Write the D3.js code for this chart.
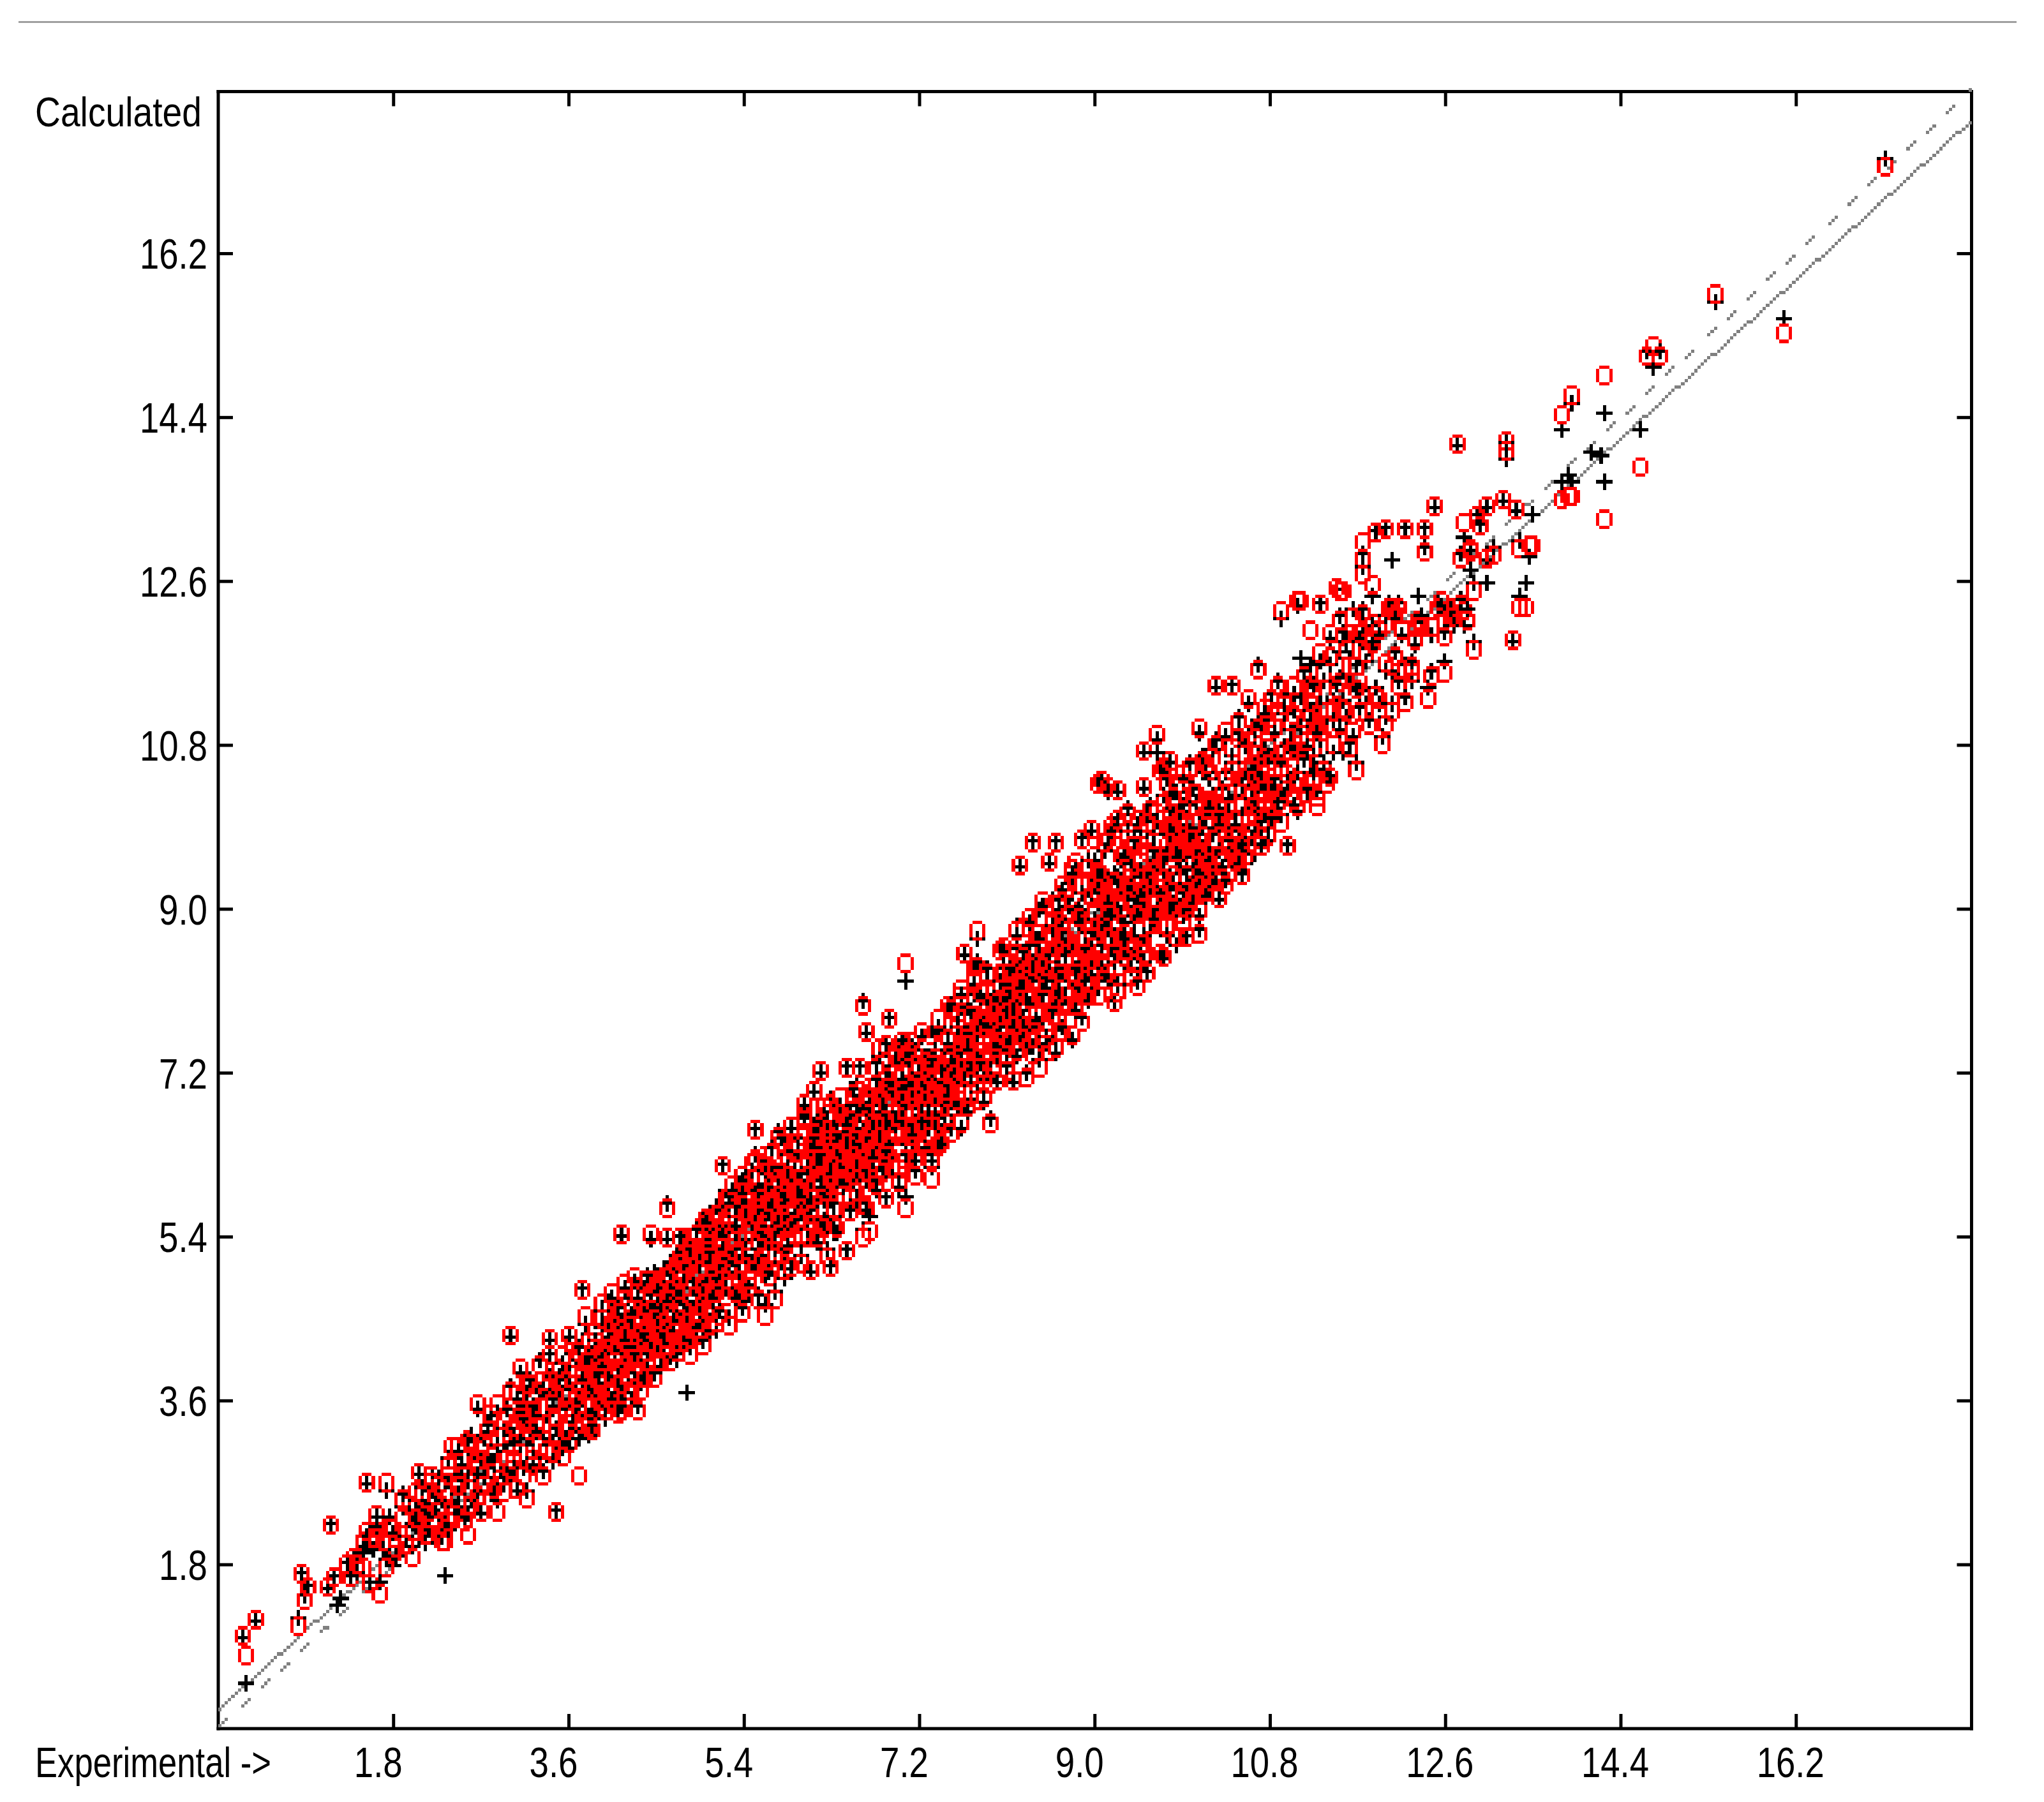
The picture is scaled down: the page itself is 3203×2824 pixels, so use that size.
<!DOCTYPE html>
<html>
<head>
<meta charset="utf-8">
<script src="https://cdn.jsdelivr.net/npm/d3@7"></script>
<style>
  html, body { margin: 0; padding: 0; background: #fff; }
  svg { display: block; }
  text { font-family: "Liberation Sans", Arial, sans-serif; fill: #000; }
</style>
</head>
<body>
<div class="container_main"></div>
<script>
// tick values, same on both axes
const tickValues = [1.8, 3.6, 5.4, 7.2, 9.0, 10.8, 12.6, 14.4, 16.2];
const xDomain = [0, 18];
const yDomain = [0, 17.98];
const xTitle = "Experimental ->";
const yTitle = "Calculated";

// reference lines (x0, y0, x1, y1)
const fitLine = [0, 0.2, 18, 17.66];
const unityLine = [0, 0, 18, 18];

// [experimental, calculated (+), calculated (o)]
// the core of the cloud cannot be read point by point, these are estimates
const coreE = [
[3.62,3.96,3.90],[4.06,4.04,4.12],[3.72,3.44,3.52],[4.29,4.52,4.46],[3.88,4.18,4.24],[4.15,4.42,4.36],[3.78,3.96,4.02],[4.46,4.30,4.36],
[4.04,3.84,3.92],[4.35,4.06,4.12],[3.92,3.74,3.80],[4.55,4.66,4.60],[4.19,4.50,4.58],[4.42,4.48,4.54],[4.10,4.22,4.28],[4.66,4.30,4.24],
[4.26,4.28,4.20],[4.58,4.84,4.78],[4.36,4.84,4.90],[4.72,4.90,4.84],[4.48,4.34,4.42],[4.80,4.44,4.50],[4.40,4.56,4.48],[4.88,5.06,5.00],
[4.63,4.46,4.54],[4.94,4.78,4.84],[4.52,4.28,4.36],[5.02,4.96,5.04],[4.70,4.72,4.78],[5.10,4.86,4.80],[4.77,5.10,5.02],[5.18,5.14,5.08],
[4.84,4.54,4.60],[5.23,5.02,5.10],[4.92,5.22,5.28],[5.30,5.26,5.20],[4.98,4.92,4.86],[5.37,5.52,5.58],[5.06,5.38,5.32],[5.44,5.12,5.18],
[5.12,5.28,5.22],[5.50,5.76,5.70],[5.16,5.74,5.68],[5.56,5.52,5.58],[5.25,5.10,5.18],[5.63,5.46,5.38],[5.33,5.78,5.72],[5.68,5.94,6.00],
[5.40,5.36,5.42],[5.74,5.68,5.62],[5.47,5.96,5.90],[5.80,6.06,6.12],[5.54,5.64,5.70],[5.86,5.72,5.66],[5.60,6.12,6.06],[5.93,5.88,5.96],
[5.66,5.38,5.44],[5.99,6.26,6.20],[5.72,5.86,5.80],[6.05,5.96,6.02],[5.78,5.50,5.58],[6.10,6.28,6.36],[5.84,6.30,6.24],[6.15,6.10,6.04],
[5.90,5.90,5.84],[6.20,6.56,6.50],[5.96,6.50,6.44],[6.26,5.90,5.98],[6.02,5.66,5.72],[6.31,6.34,6.28],[6.08,6.38,6.32],[6.36,6.64,6.58],
[6.13,5.78,5.84],[6.41,6.10,6.18],[6.18,6.20,6.14],[6.46,6.46,6.40],[6.23,6.52,6.46],[6.52,6.24,6.16],[6.28,5.80,5.88],[6.57,6.86,6.80],
[6.33,6.30,6.38],[6.62,6.58,6.64],[6.38,6.02,5.96],[6.67,6.20,6.28],[6.43,6.68,6.62],[6.73,6.70,6.64],[6.49,6.14,6.20],[6.78,6.92,6.98],
[6.54,6.44,6.38],[6.83,6.52,6.58],[6.59,6.96,7.02],[6.88,6.34,6.28],[6.64,6.12,6.18],[6.93,7.08,7.02],[6.69,6.48,6.42],[6.98,6.78,6.84],
[6.74,6.30,6.38],[7.03,6.48,6.54],[6.79,6.88,6.94],[7.08,7.14,7.08],[6.84,6.16,6.22],[7.13,6.82,6.76],[6.90,7.00,7.06],[7.18,6.54,6.60],
[6.95,6.58,6.52],[7.23,7.10,7.04],[7.00,7.38,7.32],[7.28,6.78,6.84],[7.05,6.66,6.72],[7.33,7.02,6.96],[7.10,7.00,6.94],[7.38,6.62,6.68],
[7.15,7.46,7.40],[7.43,7.36,7.30],[7.20,6.58,6.64],[7.48,7.16,7.22],[7.25,7.18,7.24],[7.53,6.98,6.92],[7.30,6.92,6.86],[7.58,7.52,7.46],
[3.44,3.54,3.60],[3.68,3.72,3.78],[3.95,3.58,3.52],[4.22,4.04,3.98],[4.50,4.62,4.68],[4.75,4.18,4.26],[5.00,5.14,5.08],[5.27,4.78,4.84],
[5.55,5.18,5.12],[5.82,5.54,5.48],[6.06,5.84,5.78],[6.35,6.24,6.30],[6.60,6.06,6.12],[6.86,6.62,6.70],[7.12,6.68,6.62],[7.36,7.12,7.18]
];

const coreF = [
[7.62,7.42,7.36],[8.02,7.58,7.64],[7.66,7.84,7.78],[8.10,8.18,8.12],[7.70,7.30,7.36],[8.16,7.92,7.98],[7.74,7.66,7.60],[8.22,7.70,7.76],
[7.78,7.36,7.42],[8.28,8.26,8.20],[7.82,7.72,7.78],[8.34,7.72,7.66],[7.86,7.46,7.52],[8.40,8.46,8.40],[7.90,7.90,7.96],[8.46,8.22,8.28],
[7.94,7.68,7.62],[8.52,7.90,7.96],[7.98,8.04,7.98],[8.58,8.56,8.50],[8.04,7.32,7.38],[8.64,8.10,8.04],[8.08,7.78,7.84],[8.70,8.40,8.46],
[8.14,8.12,8.06],[8.76,8.68,8.62],[8.18,7.72,7.78],[8.82,8.28,8.34],[8.26,8.26,8.32],[8.88,8.96,8.90],[8.32,8.62,8.56],[8.94,8.50,8.56],
[8.38,8.00,8.06],[9.00,9.24,9.18],[8.44,8.48,8.42],[9.06,8.76,8.82],[8.50,8.24,8.30],[9.12,9.04,8.98],[8.56,8.62,8.68],[9.18,8.92,8.98],
[8.62,8.36,8.30],[9.24,9.30,9.24],[8.68,8.90,8.84],[9.30,8.68,8.74],[8.74,8.58,8.64],[9.36,9.50,9.44],[8.80,8.18,8.24],[9.42,9.36,9.30],
[8.86,8.96,9.02],[9.48,8.92,8.98],[8.92,8.50,8.44],[9.54,9.68,9.62],[8.98,9.18,9.12],[9.60,9.40,9.46],[9.04,8.72,8.78],[9.66,9.66,9.60],
[9.10,9.32,9.26],[9.72,9.10,9.16],[9.16,8.56,8.62],[9.78,10.12,10.06],[9.22,9.22,9.28],[9.84,9.76,9.70],[9.28,8.74,8.68],[9.90,9.60,9.66],
[9.34,9.58,9.52],[9.96,10.14,10.08],[9.40,9.04,9.10],[10.02,9.44,9.50],[9.46,9.84,9.78],[10.08,10.02,9.96],[9.52,9.16,9.22],[10.14,9.76,9.82],
[9.58,9.48,9.42],[10.20,10.26,10.20],[9.64,9.00,9.06],[10.26,9.92,9.98],[9.70,9.52,9.58],[10.32,10.04,9.98],[9.76,9.28,9.22],[10.38,9.66,9.72],
[9.82,9.68,9.74],[10.44,10.36,10.30],[9.88,9.40,9.34],[10.50,9.88,9.94],[9.94,9.94,10.00],[10.56,10.48,10.42],[10.00,9.22,9.28],[10.62,10.22,10.28],
[10.06,9.64,9.58],[10.68,10.50,10.44],[10.12,10.26,10.20],[10.74,10.04,10.10],[10.18,9.52,9.58],[10.80,10.70,10.64],[10.24,10.12,10.06],[10.86,10.30,10.36]
];

const coreA = [
[2.21,2.38,2.31],[2.66,3.02,2.95],[2.38,2.71,2.78],[2.93,3.12,3.20],[2.47,2.44,2.52],[2.83,2.94,2.86],[2.57,2.86,2.80],[3.06,3.36,3.28],
[3.31,3.02,3.10],[3.74,4.84,4.81],[3.12,3.58,3.50],[3.55,3.92,3.86],[3.27,3.44,3.38],[3.82,3.70,3.78],[3.03,3.16,3.08],[3.46,3.28,3.22],
[3.64,4.12,4.20],[3.22,2.90,2.96],[3.90,4.16,4.08],[3.37,3.66,3.74],[3.71,3.62,3.55],[3.09,3.48,3.42],[3.58,3.44,3.36],[3.96,3.66,3.60],
[3.16,3.12,3.20],[3.49,3.72,3.80],[3.79,4.32,4.26],[3.26,3.76,3.70],[4.03,4.50,4.44],[3.42,3.14,3.06],[3.67,3.80,3.72],[4.10,4.34,4.42],
[3.34,3.26,3.34],[3.86,3.86,3.94],[4.16,4.06,3.98],[3.53,3.60,3.66],[4.24,4.36,4.28],[3.76,4.06,3.98],[4.08,3.76,3.70],[3.62,3.26,3.34],
[4.31,4.60,4.54],[3.94,4.42,4.50],[4.20,4.74,4.68],[3.84,3.48,3.54],[4.37,4.18,4.10],[4.14,5.42,5.42],[4.00,3.96,4.04],[4.45,4.78,4.70],
[4.27,3.80,3.88],[3.98,4.24,4.18],[4.52,4.50,4.42],[4.12,4.62,4.56],[4.41,3.98,4.06],[4.18,4.16,4.24],[4.57,4.24,4.18],[4.33,4.44,4.50],
[4.49,5.00,4.94],[4.22,3.90,3.84],[4.64,4.82,4.90],[4.39,4.64,4.58],[4.55,4.38,4.30],[4.29,4.90,4.96],[4.71,4.52,4.46],[4.47,4.10,4.18],
[4.61,5.77,5.72],[4.68,5.00,5.08],[4.35,4.26,4.34],[4.78,4.68,4.60],[4.53,4.76,4.84],[4.83,5.12,5.06],[4.59,4.22,4.16],[4.76,4.36,4.42],
[4.87,4.62,4.70],[4.62,5.06,4.98],[4.95,4.96,5.04],[4.69,4.60,4.52],[4.91,4.24,4.32],[4.81,4.92,4.84],[5.01,5.30,5.24],[4.73,5.22,5.16],
[4.97,4.76,4.68],[5.07,4.56,4.64],[4.85,5.34,5.40],[5.13,5.48,5.40],[4.93,4.46,4.40],[5.05,5.08,5.14],[5.20,5.02,4.94],[4.99,5.60,5.52],
[5.15,4.76,4.84],[5.09,5.66,5.60],[5.26,5.30,5.38],[5.03,4.36,4.44],[5.22,5.90,5.84],[5.11,4.96,4.88],[5.32,5.62,5.54],[5.17,5.24,5.32],
[2.99,2.76,2.84],[3.19,3.32,3.26],[3.40,3.88,3.82],[3.60,3.08,3.14],[3.81,3.24,3.30],[4.02,4.68,4.62],[4.23,4.20,4.14],[4.43,4.70,4.78]
];

const coreB = [
[5.34,4.70,4.78],[5.24,5.52,5.46],[5.42,6.04,5.98],[5.28,4.84,4.90],[5.48,5.44,5.36],[5.36,5.14,5.22],[5.56,5.92,5.84],[5.40,5.76,5.70],
[5.52,5.06,5.12],[5.65,6.10,6.18],[5.46,4.76,4.84],[5.61,5.60,5.52],[5.73,5.34,5.42],[5.50,6.30,6.24],[5.69,6.04,5.96],[5.58,5.26,5.18],
[5.79,5.80,5.88],[5.63,4.98,5.06],[5.85,6.30,6.22],[5.71,5.48,5.40],[5.91,5.14,5.22],[5.75,6.56,6.50],[5.83,5.96,6.04],[5.97,5.66,5.58],
[5.67,5.82,5.76],[6.03,6.42,6.50],[5.87,5.58,5.50],[6.09,5.90,5.82],[5.93,6.22,6.16],[5.77,5.12,5.20],[6.14,6.66,6.60],[5.99,5.34,5.42],
[6.19,5.48,5.54],[5.89,6.44,6.36],[6.05,6.12,6.20],[6.25,6.04,5.96],[6.12,6.62,6.54],[5.95,5.80,5.86],[6.29,6.44,6.52],[6.07,5.62,5.54],
[6.33,5.64,5.72],[6.16,6.30,6.22],[6.39,6.80,6.74],[6.23,5.82,5.90],[6.46,6.30,6.38],[6.27,6.92,6.86],[6.35,6.06,5.98],[6.52,6.00,6.08],
[6.31,5.44,5.52],[6.56,6.54,6.46],[6.41,6.64,6.72],[6.62,7.98,7.95],[6.48,5.90,5.82],[6.37,6.22,6.30],[6.63,6.22,6.14],[6.54,7.08,7.02],
[6.43,6.50,6.42],[6.69,6.96,7.04],[6.58,6.30,6.24],[6.75,5.98,6.06],[6.50,6.78,6.70],[6.61,5.84,5.76],[6.79,6.52,6.44],[6.67,6.66,6.74],
[6.85,7.20,7.14],[6.71,6.14,6.22],[6.90,7.82,7.78],[6.81,6.78,6.70],[6.94,6.50,6.58],[6.77,7.30,7.24],[6.98,6.22,6.14],[6.83,6.40,6.46],
[7.02,6.90,6.98],[6.88,7.10,7.04],[7.08,6.60,6.52],[6.92,6.90,6.84],[7.04,7.36,7.44],[7.14,6.34,6.42],[6.96,7.50,7.42],[7.10,7.16,7.08],
[7.18,7.02,6.94],[7.00,6.72,6.80],[7.24,6.68,6.60],[7.12,7.50,7.56],[7.30,7.20,7.28],[7.16,6.46,6.52],[7.35,6.70,6.78],[7.20,7.02,7.10],
[7.26,7.40,7.32],[7.39,7.06,6.98],[7.22,6.30,6.38],[7.43,7.62,7.54],[7.28,6.84,6.92],[7.47,6.86,6.94],[7.32,7.66,7.60],[7.51,7.24,7.16],
[5.38,5.86,5.92],[5.54,5.38,5.32],[5.81,5.24,5.30],[6.01,6.74,6.68],[6.21,6.76,6.84],[6.44,6.16,6.10],[6.65,6.80,6.88],[6.87,6.28,6.36],
[7.06,7.02,7.08],[7.37,7.44,7.38],[5.44,5.62,5.68],[5.72,6.18,6.12],[6.00,6.10,6.04],[6.28,6.12,6.20],[6.60,6.42,6.36],[6.89,6.60,6.66]
];

const coreC = [
[7.55,7.06,7.14],[7.41,7.20,7.28],[7.59,7.78,7.70],[7.45,6.74,6.68],[7.63,7.34,7.42],[7.49,7.88,7.94],[7.67,6.92,6.98],[7.53,7.42,7.34],
[7.71,7.54,7.62],[7.57,6.90,6.84],[7.75,8.06,8.00],[7.61,7.96,8.04],[7.81,7.26,7.18],[7.69,7.64,7.58],[7.85,7.66,7.74],[7.73,7.18,7.24],
[7.89,8.16,8.08],[7.77,8.32,8.38],[7.93,7.36,7.44],[7.83,7.82,7.76],[7.97,7.82,7.74],[7.87,7.12,7.20],[8.01,7.42,7.48],[7.91,8.06,8.12],
[8.05,8.36,8.30],[7.95,7.54,7.46],[8.09,7.28,7.36],[7.99,7.72,7.80],[8.13,8.00,7.92],[8.03,8.62,8.56],[8.16,7.62,7.70],[8.07,7.94,7.86],
[8.20,8.30,8.38],[8.11,7.44,7.50],[8.25,7.82,7.74],[8.18,8.56,8.50],[8.29,8.10,8.18],[8.23,7.54,7.60],[8.33,7.50,7.58],[8.27,8.88,8.80],
[8.35,8.44,8.36],[8.31,7.96,8.04],[8.41,7.82,7.74],[8.39,8.68,8.74],[8.45,8.20,8.28],[8.43,8.98,8.92],[8.49,7.52,7.58],[8.47,8.46,8.38],
[8.53,7.52,7.44],[8.51,8.12,8.20],[8.57,8.76,8.84],[8.55,9.12,9.06],[8.61,8.02,7.94],[8.59,8.50,8.58],[8.66,8.30,8.22],[8.62,7.74,7.82],
[8.70,9.12,9.18],[8.68,8.76,8.68],[8.74,7.96,8.04],[8.72,9.30,9.24],[8.78,8.50,8.58],[8.76,8.14,8.06],[8.82,8.98,8.90],[8.80,9.46,9.52],
[8.87,7.82,7.75],[8.84,8.38,8.46],[8.89,8.76,8.68],[8.92,9.22,9.30],[8.94,8.28,8.20],[8.96,8.68,8.76],[8.99,9.54,9.60],[9.01,8.52,8.44],
[9.03,9.12,9.20],[9.06,8.36,8.42],[9.08,9.44,9.38],[9.10,8.88,8.80],[9.12,9.70,9.76],[9.14,8.20,8.28],[9.16,9.16,9.08],[9.18,8.62,8.70],
[9.20,9.92,9.86],[9.20,7.98,7.96],[9.22,9.02,9.10],[9.26,8.46,8.38],[9.28,9.52,9.60],[9.30,8.86,8.92],[9.32,9.84,9.78],[9.34,8.46,8.54],
[9.36,9.28,9.20],[9.38,9.62,9.70],[9.40,8.68,8.60],[9.42,9.12,9.06],[9.44,9.92,10.00],[9.46,8.54,8.62],[9.48,9.78,9.70],[9.50,9.06,9.14],
[9.52,8.44,8.50],[9.54,9.44,9.38],[9.56,10.16,10.10],[9.58,8.76,8.84],[9.60,9.22,9.14],[9.62,9.82,9.90],[7.79,8.44,8.38],[8.02,8.10,8.02],
[8.24,8.36,8.44],[8.46,7.80,7.88],[8.64,8.98,9.04],[8.86,8.14,8.06],[9.09,9.00,9.08],[9.25,9.34,9.26],[9.47,9.14,9.20],[9.60,8.96,9.04]
];

const coreD = [
[9.66,9.18,9.24],[9.71,10.24,10.18],[9.68,8.90,8.82],[9.75,9.62,9.70],[9.73,10.44,10.38],[9.78,8.96,9.02],[9.80,9.94,9.88],[9.82,9.30,9.38],
[9.84,10.30,10.36],[9.86,9.04,8.96],[9.88,9.58,9.66],[9.90,9.18,9.12],[9.92,10.16,10.10],[9.94,9.44,9.36],[9.96,10.46,10.52],[9.98,8.98,9.06],
[10.00,9.74,9.82],[10.02,10.32,10.26],[10.04,9.32,9.24],[10.06,9.90,9.98],[10.10,10.68,10.62],[10.12,9.44,9.52],[10.14,10.00,9.92],[10.16,9.24,9.30],
[10.18,10.44,10.52],[10.20,9.82,9.76],[10.22,9.38,9.46],[10.24,10.86,10.80],[10.26,9.66,9.58],[10.29,10.10,10.18],[10.31,9.28,9.34],[10.35,10.52,10.46],
[10.37,9.84,9.92],[10.39,10.02,9.94],[10.41,10.70,10.78],[10.43,9.56,9.50],[10.45,10.24,10.32],[10.47,9.74,9.66],[10.49,10.94,10.88],[10.51,10.04,10.12],
[10.53,9.50,9.58],[10.55,10.50,10.42],[10.57,9.92,9.84],[10.59,10.82,10.90],[10.61,10.20,10.14],[10.63,9.62,9.68],[10.65,10.62,10.70],[10.67,10.02,10.10],
[10.69,11.06,11.00],[10.71,9.84,9.76],[10.73,10.30,10.38],[10.75,10.74,10.66],[10.77,9.76,9.82],[10.79,11.02,11.10],[10.81,10.28,10.20],[10.83,10.62,10.56],
[10.85,9.96,10.04],[10.87,11.24,11.18],[10.90,10.46,10.54],[10.92,10.02,9.94],[10.94,10.80,10.74],[10.96,11.36,11.30],[10.98,10.30,10.38],[11.00,10.98,11.06],
[11.02,10.34,10.26],[11.04,11.20,11.14],[11.06,10.72,10.80],[11.09,10.06,10.12],[11.12,11.34,11.26],[11.15,10.66,10.60],[11.19,10.28,10.36],[11.21,11.06,11.14],
[11.23,11.50,11.44],[11.25,10.70,10.78],[11.28,10.30,10.24],[11.30,11.24,11.18],[11.32,10.86,10.94],[11.34,11.52,11.60],[11.37,10.44,10.36],[11.39,11.10,11.02],
[11.41,11.70,11.76],[11.44,10.72,10.80],[11.46,11.30,11.22],[11.50,10.96,11.04],[11.53,11.56,11.50],[11.55,12.04,11.98],[11.59,11.10,11.18],[11.63,11.76,11.68],
[11.66,10.88,10.94],[11.71,11.40,11.48],[11.75,12.12,12.06],[11.80,11.26,11.18],[11.83,11.86,11.94],[11.91,11.24,11.30],[11.98,12.22,12.14],[12.04,11.60,11.68],
[12.12,12.36,12.30],[12.18,11.70,11.62],[12.26,11.50,11.58],[12.30,11.90,11.96],[12.44,12.02,12.10],[12.52,12.38,12.30],[12.68,12.22,12.30],[12.76,12.40,12.34]
];

const pointsLow = [
[0.24,1.01,1.01],[0.37,1.19,1.19],[0.30,0.50,0.81],[0.82,1.20,1.14],[0.885,1.45,1.40],[0.92,1.57,1.57],[0.85,1.71,1.71],
[1.12,1.55,1.55],[1.19,1.68,1.68],[1.23,1.35,null],[1.26,1.43,null],[1.35,1.67,1.67],[1.40,1.87,1.87],[1.32,1.83,1.80],
[1.50,2.00,2.04],[1.57,1.61,1.59],[1.67,1.61,1.47],[1.78,1.80,1.92],[1.83,1.88,1.98],[2.01,2.02,1.87],[2.32,1.68,2.04],
[1.16,2.24,2.24],[1.64,2.33,2.33],[1.54,2.69,2.69],[1.74,2.60,2.69],[2.05,2.78,2.82],[2.19,2.79,2.79],[2.29,2.10,2.04],
[2.56,2.35,2.14],[2.70,2.37,2.37],[2.86,2.52,2.38],[1.48,1.93,1.78],[1.44,1.72,1.80],[1.60,1.96,2.10],[1.53,2.12,2.18],
[1.62,2.21,2.10],[1.70,1.98,2.05],[1.76,2.32,2.21],[1.81,2.14,2.20],[1.88,2.42,2.30],[1.92,2.11,2.03],[1.97,2.36,2.45],
[1.90,2.57,2.52],[1.99,2.24,2.18],[2.03,2.50,2.61],[2.08,2.31,2.22],[2.11,2.66,2.55],[2.14,2.42,2.35],[2.17,2.18,2.12],
[2.21,2.60,2.70],[2.25,2.31,2.40],[2.27,2.77,2.68],[2.31,2.50,2.44],[2.34,2.26,2.20],[2.36,2.97,2.88],[2.39,2.66,3.08],
[2.42,2.43,2.35],[2.45,2.81,2.74],[2.48,2.58,2.66],[2.50,2.90,2.95],[2.52,2.34,2.28],[2.55,3.17,3.17],[2.58,2.72,2.62],
[2.60,2.50,2.44],[2.63,3.02,2.92],[2.65,2.80,2.86],[2.68,2.60,2.55],[2.66,3.52,3.57],[2.04,2.22,2.30],[2.12,2.04,2.12],
[1.73,1.85,1.78],[2.24,2.47,2.55],[2.38,2.20,2.28],[2.47,3.03,3.10],[2.61,3.23,3.14],[2.69,2.98,3.05]
];

const pointsA = [
[2.72,3.20,3.12],[2.74,2.75,2.66],[2.77,3.34,3.26],[2.80,3.44,3.44],[2.79,2.92,3.00],[2.82,2.58,2.64],[2.85,3.10,3.19],
[2.87,3.49,3.57],[2.89,2.82,2.75],[2.92,3.30,3.38],[2.94,2.67,2.60],[2.96,3.05,2.97],[2.98,3.52,3.44],[3.00,3.77,3.70],
[3.00,4.30,4.30],[3.02,2.88,2.95],[3.04,3.24,3.32],[3.08,2.62,2.62],[3.07,3.60,3.68],[3.10,3.10,3.02],[3.11,3.92,3.96],
[3.13,2.85,2.77],[3.15,3.42,3.35],[3.17,3.70,3.78],[3.18,2.60,2.53],[3.20,3.18,3.26],[3.20,3.84,3.79],[3.23,2.98,2.90],
[3.25,3.55,3.48],[3.28,3.27,3.33],[3.30,4.05,3.98],[3.32,2.84,2.76],[3.34,3.72,3.80],[3.36,3.12,3.05],[3.38,3.45,3.52],
[3.41,4.25,4.28],[3.41,4.11,4.11],[3.43,2.95,3.02],[3.45,3.62,3.55],[3.48,2.39,2.39],[3.47,3.30,3.24],[3.50,3.88,3.95],
[3.52,3.08,3.00],[3.54,4.02,4.10],[3.56,3.50,3.44],[3.58,3.20,3.28],[3.61,4.30,4.30],[3.60,3.75,3.68],[3.63,3.36,3.42],
[3.66,3.98,4.06],[3.69,3.18,2.76],[3.68,3.56,3.64],[3.71,4.20,4.14],[3.73,3.28,3.35],[3.75,3.82,3.90],[3.77,4.46,4.52],
[3.79,3.44,3.36],[3.81,4.10,4.03],[3.83,3.64,3.72],[3.85,3.34,3.27],[3.87,4.28,4.36],[3.89,3.92,3.84],[3.91,3.52,3.59],
[3.93,4.60,4.66],[3.95,4.05,4.13],[3.97,3.42,3.48],[3.99,3.78,3.70],[4.01,4.36,4.28],[4.03,3.60,3.67],[4.05,4.72,4.78],
[4.07,4.12,4.04],[4.09,3.88,3.96],[4.11,3.52,3.45],[4.13,4.48,4.40],[4.13,3.55,3.49],[4.15,3.70,3.78],[4.17,4.26,4.33],
[4.19,4.84,4.90],[4.21,3.96,3.88],[4.23,3.62,3.70],[4.26,3.84,3.92],[4.25,4.55,4.62],[4.28,4.12,4.05],[4.30,3.53,3.49],
[4.32,4.72,4.78],[4.34,3.78,3.70],[4.36,4.35,4.28],[4.38,3.84,3.84],[4.40,4.98,4.92],[4.42,4.06,4.14],[4.44,5.36,5.44],
[4.46,3.92,3.85],[4.48,4.58,4.50],[4.50,4.22,4.30],[4.52,4.80,4.86],[4.54,3.96,4.02],[4.56,5.06,4.98],[4.58,4.34,4.27],
[4.61,5.39,5.39],[4.60,4.68,4.75],[4.63,4.10,4.03],[4.65,4.92,5.00],[4.67,4.44,4.36],[4.70,5.18,5.11],[4.72,4.05,4.13],
[4.75,5.40,5.40],[4.74,4.72,4.64],[4.77,4.26,4.33],[4.79,5.02,5.10],[4.80,3.69,4.25],[4.82,4.54,4.47],[4.84,5.28,5.22],
[4.86,4.18,4.10],[4.88,4.85,4.93],[4.90,4.40,4.47],[4.92,5.48,5.42]
];

const pointsB = [
[4.94,4.66,4.58],[4.96,5.12,5.20],[4.98,4.28,4.20],[5.00,4.88,4.80],[5.02,5.55,5.62],[5.04,4.48,4.55],[5.06,5.24,5.16],
[5.08,4.72,4.78],[5.10,5.72,5.66],[5.12,4.38,4.45],[5.14,5.02,5.10],[5.16,4.60,4.53],[5.19,6.19,6.19],[5.18,5.40,5.46],
[5.21,4.84,4.76],[5.23,5.76,5.84],[5.25,4.50,4.44],[5.27,5.16,5.08],[5.29,5.92,5.98],[5.31,4.72,4.80],[5.33,5.46,5.54],
[5.35,5.00,4.93],[5.37,6.02,6.08],[5.39,4.62,4.55],[5.41,5.28,5.36],[5.43,5.74,5.66],[5.45,4.86,4.94],[5.47,6.14,6.20],
[5.49,5.12,5.05],[5.53,6.58,6.58],[5.51,5.56,5.63],[5.55,4.78,4.71],[5.57,5.90,5.82],[5.60,4.65,4.52],[5.59,5.38,5.46],
[5.62,6.22,6.28],[5.64,5.02,4.95],[5.66,5.70,5.78],[5.68,6.38,6.34],[5.70,4.81,4.72],[5.72,5.25,5.18],[5.74,5.96,6.04],
[5.76,5.52,5.44],[5.78,6.48,6.42],[5.80,4.96,5.03],[5.82,5.76,5.84],[5.84,6.16,6.08],[5.86,5.30,5.37],[5.88,6.58,6.62],
[5.90,5.06,5.06],[5.92,5.62,5.70],[5.94,6.02,5.94],[5.96,6.36,6.44],[5.98,5.20,5.12],[6.00,5.84,5.90],[6.02,6.71,6.71],
[6.02,6.86,6.86],[6.04,5.48,5.40],[6.06,6.18,6.26],[6.08,5.02,5.02],[6.10,5.72,5.64],[6.11,6.99,6.99],[6.13,6.50,6.44],
[6.15,5.34,5.41],[6.17,5.94,6.02],[6.18,7.22,7.22],[6.20,6.32,6.24],[6.22,5.58,5.50],[6.24,6.68,6.74],[6.26,5.26,5.19],
[6.28,5.07,5.07],[6.30,6.08,6.16],[6.32,5.78,5.70],[6.34,6.54,6.46],[6.36,5.44,5.51],[6.38,6.86,6.92],[6.40,6.22,6.14],
[6.42,5.96,6.04],[6.44,5.25,5.25],[6.45,7.27,7.27],[6.47,6.62,6.70],[6.49,5.68,5.67],[6.51,6.38,6.30],[6.53,7.02,6.96],
[6.55,5.82,5.89],[6.57,6.14,6.22],[6.60,7.27,7.27],[6.59,6.74,6.66],[6.62,5.48,5.41],[6.64,6.42,6.50],[6.65,7.65,7.66],
[6.66,6.02,5.94],[6.67,5.68,5.72],[6.68,5.62,5.47],[6.70,6.86,6.92],[6.72,6.26,6.34],[6.74,7.14,7.08],[6.76,5.90,5.97],
[6.78,6.58,6.50],[6.80,7.40,7.46],[6.82,6.18,6.10],[6.84,6.78,6.86],[6.87,5.84,5.84],[6.86,7.54,7.50],[6.89,6.40,6.47],
[6.91,7.02,6.94],[6.93,6.06,6.13],[6.95,7.28,7.36],[6.97,6.62,6.54],[6.99,5.94,6.00],[7.01,7.12,7.20],[7.03,7.55,7.55],
[7.05,6.32,6.25],[7.07,5.85,5.72],[7.06,6.88,6.80],[7.06,8.22,8.40],[7.09,7.34,7.42],[7.11,6.52,6.59],[7.13,7.02,6.95],
[7.15,6.14,6.07],[7.17,6.25,6.25],[7.19,7.22,7.30],[7.21,6.72,6.64],[7.23,7.60,7.66],[7.25,6.38,6.45],[7.27,7.00,7.08]
];

const pointsC = [
[7.29,6.58,6.50],[7.31,6.17,6.04],[7.33,7.36,7.28],[7.34,6.25,6.25],[7.36,6.86,6.93],[7.38,7.72,7.78],[7.40,6.46,6.39],
[7.44,6.42,6.42],[7.42,7.14,7.22],[7.46,6.72,6.64],[7.48,7.52,7.58],[7.50,6.94,7.02],[7.52,7.96,7.90],[7.54,6.60,6.53],
[7.56,7.28,7.20],[7.58,6.82,6.89],[7.60,7.70,7.78],[7.62,8.06,8.12],[7.64,6.59,6.63],[7.65,8.50,8.50],[7.66,7.08,7.00],
[7.68,7.44,7.52],[7.70,6.76,6.83],[7.72,7.90,7.82],[7.72,6.90,6.96],[7.74,7.22,7.30],[7.76,8.18,8.24],[7.79,8.68,8.77],
[7.78,6.98,6.91],[7.80,7.62,7.54],[7.82,8.02,8.10],[7.84,7.32,7.26],[7.86,6.88,6.95],[7.88,7.78,7.86],[7.90,8.34,8.28],
[7.92,6.69,6.63],[7.94,7.14,7.07],[7.96,7.96,7.88],[7.98,7.48,7.55],[8.00,7.10,7.10],[8.02,8.20,8.28],[8.04,7.74,7.66],
[8.06,8.52,8.58],[8.08,7.28,7.21],[8.10,7.96,8.04],[8.12,7.52,7.59],[8.15,7.10,7.10],[8.14,8.36,8.28],[8.17,7.80,7.72],
[8.19,8.70,8.76],[8.22,9.47,9.47],[8.21,7.38,7.45],[8.24,8.12,8.20],[8.26,7.66,7.58],[8.28,8.52,8.46],[8.30,7.22,7.15],
[8.32,7.94,8.02],[8.34,8.86,8.92],[8.37,9.74,9.74],[8.36,7.48,7.41],[8.38,8.28,8.20],[8.40,7.76,7.84],[8.42,8.66,8.74],
[8.44,7.34,7.27],[8.46,8.08,8.00],[8.48,9.04,9.10],[8.50,7.60,7.67],[8.52,8.44,8.52],[8.54,9.50,9.50],[8.56,7.90,7.82],
[8.58,8.80,8.72],[8.61,9.74,9.74],[8.60,7.42,7.49],[8.63,8.22,8.30],[8.65,9.20,9.26],[8.67,7.72,7.64],[8.69,8.60,8.68],
[8.71,8.02,7.95],[8.73,9.02,8.94],[8.75,7.56,7.63],[8.77,9.38,9.44],[8.79,8.36,8.28],[8.81,7.88,7.95],[8.83,8.84,8.92],
[8.86,9.78,9.78],[8.85,8.16,8.08],[8.88,9.18,9.26],[8.91,8.22,8.24],[8.90,8.58,8.50],[8.93,7.98,8.05],[8.95,9.52,9.46],
[8.98,9.87,9.87],[8.97,8.36,8.43],[9.00,8.90,8.98],[9.02,8.12,8.05],[9.05,10.40,10.37],[9.04,9.32,9.40],[9.07,8.62,8.54],
[9.07,10.38,10.40],[9.09,9.66,9.72],[9.11,8.28,8.21],[9.13,10.30,10.33],[9.13,9.06,9.14],[9.15,8.78,8.70],[9.17,9.84,9.92],
[9.19,8.44,8.51],[9.21,9.38,9.30],[9.24,10.28,10.31],[9.23,8.16,8.09],[9.25,9.99,9.99],[9.27,8.92,9.00],[9.29,9.56,9.62],
[9.31,8.56,8.49],[9.33,9.18,9.26],[9.35,10.10,10.04],[9.37,8.34,8.27],[9.39,8.86,8.39],[9.41,9.74,9.68],[9.43,9.02,8.95],
[9.45,8.22,8.15],[9.47,9.42,9.50],[9.49,10.34,10.34],[9.49,10.72,10.73],[9.51,8.70,8.63],[9.53,10.02,9.96],[9.55,8.31,8.31],
[9.57,9.26,9.34],[9.59,9.66,9.58],[9.61,8.88,8.95],[9.63,10.86,10.90],[9.64,10.71,10.92],[9.65,9.96,10.04],[9.67,8.47,8.52]
];

const pointsD = [
[9.67,10.51,10.51],[9.69,8.47,8.47],[9.70,10.52,10.57],[9.72,9.42,9.34],[9.74,8.72,8.79],[9.77,10.62,10.64],[9.76,9.82,9.90],
[9.79,9.08,9.00],[9.81,10.30,10.24],[9.83,8.62,8.69],[9.85,9.56,9.64],[9.87,10.08,10.00],[9.89,8.92,8.85],[9.91,10.44,10.50],
[9.93,8.72,8.68],[9.95,9.30,9.38],[9.97,9.84,9.76],[9.99,10.62,10.56],[10.01,9.06,9.13],[10.03,9.58,9.66],[10.05,10.18,10.26],
[10.07,10.94,10.97],[10.07,8.92,8.98],[10.09,9.34,9.27],[10.08,8.78,8.71],[10.11,9.88,9.80],[10.13,10.52,10.58],[10.15,9.14,9.21],
[10.17,10.10,10.18],[10.19,9.60,9.53],[10.21,10.74,10.68],[10.23,11.42,11.44],[10.25,9.28,9.35],[10.28,9.12,9.12],[10.27,9.92,10.00],
[10.30,10.34,10.26],[10.32,9.46,9.53],[10.34,9.33,9.27],[10.33,10.88,10.94],[10.36,9.76,9.68],[10.38,10.20,10.28],[10.40,11.47,11.47],
[10.40,9.54,9.61],[10.42,10.60,10.52],[10.44,9.92,9.99],[10.46,11.12,11.06],[10.48,9.64,9.57],[10.52,9.39,9.39],[10.52,9.70,9.70],
[10.50,10.36,10.44],[10.54,10.78,10.70],[10.56,10.02,9.95],[10.58,11.24,11.30],[10.60,9.80,9.87],[10.62,10.52,10.60],[10.64,10.10,10.03],
[10.66,10.96,10.88],[10.68,11.67,11.62],[10.70,9.90,9.97],[10.72,9.70,9.70],[10.72,10.40,10.32],[10.74,11.14,11.20],[10.76,10.12,10.19],
[10.78,10.68,10.76],[10.80,11.38,11.32],[10.82,10.00,10.11],[10.84,10.44,10.36],[10.86,10.92,11.00],[10.89,10.18,10.18],[10.88,11.52,11.46],
[10.90,12.20,12.27],[10.91,10.62,10.54],[10.93,10.24,10.30],[10.95,11.16,11.24],[10.97,10.41,10.48],[10.99,9.70,9.70],[11.01,10.82,10.74],
[11.03,10.14,10.21],[11.05,11.38,11.46],[11.07,12.32,12.37],[11.08,10.50,10.43],[11.10,11.77,12.39],[11.11,11.00,10.92],[11.14,11.62,11.56],
[11.17,10.34,10.28],[11.18,10.78,10.84],[11.20,11.70,12.05],[11.22,11.18,11.26],[11.24,10.52,10.45],[11.27,10.53,10.11],[11.26,11.46,11.40],
[11.29,10.92,11.00],[11.31,12.35,12.35],[11.33,11.72,11.80],[11.35,10.60,10.53],[11.38,11.24,11.16],[11.40,11.96,12.02],[11.43,10.46,10.46],
[11.45,11.08,11.15],[11.47,12.50,12.52],[11.49,11.48,11.40],[11.51,12.24,12.18],[11.52,11.82,12.51],[11.54,10.72,12.50],[11.56,11.30,11.22],
[11.58,11.92,11.86],[11.60,10.82,10.76],[11.62,11.58,11.66],[11.64,12.28,12.22],[11.67,11.68,11.68],[11.67,11.42,11.42],[11.68,10.60,10.51],
[11.70,11.98,12.04],[11.74,12.91,13.04],[11.74,12.76,12.85],[11.74,12.76,12.69],[11.72,11.22,11.16],[11.76,12.30,12.24],[11.79,11.74,11.82],
[11.81,11.08,11.02],[11.85,12.43,12.57],[11.85,12.13,12.13],[11.85,11.92,11.92],[11.88,11.42,11.36],[11.90,13.15,13.15],[11.92,12.02,12.08],
[11.95,10.90,10.80],[11.99,13.19,13.19],[11.97,11.62,11.70],[12.00,11.12,11.04],[12.02,12.36,12.30],[12.05,11.24,11.16],[12.06,12.84,12.30],
[12.08,11.82,11.76],[12.10,12.20,12.26],[12.13,11.50,11.44],[12.15,12.02,12.08],[12.19,13.18,13.18],[12.20,11.32,11.26],[12.24,11.72,11.66],
[12.28,12.16,12.10],[12.33,12.43,12.18],[12.36,12.22,12.10]
];

const pointsHigh = [
[12.39,13.18,13.18],[12.39,12.97,12.94],[12.43,11.45,11.30],[12.50,13.41,13.41],[12.46,11.62,11.55],[12.59,12.26,12.18],[12.59,12.06,11.98],
[12.54,12.32,12.40],[12.60,11.74,11.61],[12.64,12.30,12.22],[12.70,12.12,12.22],[12.73,14.10,14.10],[12.74,12.92,12.85],[12.79,13.10,13.26],
[12.80,12.10,12.28],[12.82,12.28,12.18],[12.84,12.95,12.95],[12.87,12.73,12.92],[12.88,12.58,12.50],[12.90,11.93,11.83],[12.92,13.34,13.33],
[12.96,13.22,13.20],[13.01,12.58,12.85],[13.01,12.85,12.85],[13.04,13.42,13.42],[13.08,12.99,12.87],[13.18,13.48,13.48],[13.22,13.94,14.15],
[13.24,14.14,14.04],[13.28,11.94,11.94],[13.32,13.38,13.38],[13.35,13.05,12.97],[13.36,12.43,12.31],[13.42,12.58,12.31],[13.45,12.87,13.01],
[13.49,13.32,13.01],[13.79,14.26,14.44],[13.79,13.69,13.50],[13.87,13.78,13.52],[13.90,14.55,14.65],[13.90,13.71,13.55],[14.10,14.01,null],
[14.21,13.97,null],[14.24,14.45,14.86],[14.24,13.71,13.29],[14.61,14.26,13.84],[14.65,15.14,15.08],[14.72,14.96,15.18],
[14.79,15.14,15.08],[15.37,15.65,15.74],[16.08,15.47,15.34],[17.11,17.23,17.17]
];

const allPoints = [].concat(coreE, coreF, coreA, coreB, coreC, coreD, pointsLow, pointsA, pointsB, pointsC, pointsD, pointsHigh);

const svgwidth = 3203, svgheight = 2824;
const margin = {top: 143.5, right: 113.5, bottom: 115, left: 342};
const mywidth = svgwidth - margin.left - margin.right;
const myheight = svgheight - margin.top - margin.bottom;
const PX = 5.117;   // the source was a small bitmap, one of its pixels is this big here

const svg = d3.select(".container_main").append("svg")
    .attr("width", svgwidth)
    .attr("height", svgheight);

// grey rule across the top of the image
svg.append("rect")
    .attr("x", 29).attr("y", 33)
    .attr("width", 3131).attr("height", 3)
    .attr("fill", "#a0a0a0");

const g = svg.append("g")
    .attr("transform", "translate(" + margin.left + "," + margin.top + ")");

const posX = d3.scaleLinear().domain(xDomain).range([0, mywidth]);
const posY = d3.scaleLinear().domain(yDomain).range([myheight, 0]);

const fmt = d3.format(".1f");

function styleAxis(sel) {
    sel.selectAll("path").attr("stroke", "#000").attr("stroke-width", 5).attr("stroke-linecap", "square");
    sel.selectAll("line").attr("stroke", "#000").attr("stroke-width", 5);
    sel.selectAll("text").attr("font-size", 66).attr("fill", "#000");
}

function labelLength(d) { return fmt(d).length > 3 ? 106 : 76; }

// bottom axis, ticks point inwards, labels sit left of their tick
g.append("g")
    .attr("transform", "translate(0," + myheight + ")")
    .call(d3.axisTop(posX).tickValues(tickValues).tickSize(23).tickSizeOuter(0).tickFormat(fmt).offset(0))
    .call(styleAxis)
    .call(function(a) {
        a.selectAll("text")
            .attr("y", 76).attr("dy", 0).attr("x", -62)
            .attr("text-anchor", "start")
            .attr("textLength", labelLength)
            .attr("lengthAdjust", "spacingAndGlyphs");
    });

g.append("g")
    .call(d3.axisBottom(posX).tickValues(tickValues).tickSize(23).tickSizeOuter(0).tickFormat("").offset(0))
    .call(styleAxis);

// left axis
g.append("g")
    .call(d3.axisRight(posY).tickValues(tickValues).tickSize(23).tickSizeOuter(0).tickFormat(fmt).offset(0))
    .call(styleAxis)
    .call(function(a) {
        a.selectAll("text")
            .attr("x", -17).attr("dy", 24)
            .attr("text-anchor", "end")
            .attr("textLength", labelLength)
            .attr("lengthAdjust", "spacingAndGlyphs");
    });

g.append("g")
    .attr("transform", "translate(" + mywidth + ",0)")
    .call(d3.axisLeft(posY).tickValues(tickValues).tickSize(23).tickSizeOuter(0).tickFormat("").offset(0))
    .call(styleAxis);

// titles
svg.append("text")
    .attr("x", 55).attr("y", 198)
    .attr("font-size", 65)
    .attr("textLength", 261).attr("lengthAdjust", "spacingAndGlyphs")
    .text(yTitle);
svg.append("text")
    .attr("x", 55).attr("y", 2785)
    .attr("font-size", 66)
    .attr("textLength", 370).attr("lengthAdjust", "spacingAndGlyphs")
    .text(xTitle);

// one source pixel as a piece of path
function cell(col, row) {
    return "M" + (col * PX) + "," + (row * PX) + "h" + PX + "v" + PX + "h-" + PX + "z";
}

// stepped line through the scales; dashed keeps 3 pixels out of every ~6
function stepLine(l, dashed) {
    const x0 = posX(l[0]) / PX, x1 = posX(l[2]) / PX;
    const y0 = posY(l[1]) / PX, y1 = posY(l[3]) / PX;
    const n = Math.round(x1 - x0);
    let d = "";
    for (let i = 0; i < n; i++) {
        if (dashed && (i % 6.15) >= 3) continue;
        d += cell(Math.floor(x0 + i), Math.round(y0 + (y1 - y0) * i / n) - 1);
    }
    return d;
}

g.append("path").attr("d", stepLine(fitLine, false))
    .attr("fill", "#808080").attr("shape-rendering", "crispEdges");
g.append("path").attr("d", stepLine(unityLine, true))
    .attr("fill", "#808080").attr("shape-rendering", "crispEdges");

function plusPath(v, c) {
    const cx = Math.floor(posX(v) / PX), cy = Math.floor(posY(c) / PX);
    let d = "";
    for (let i = -2; i <= 2; i++) d += cell(cx + i, cy) + cell(cx, cy + i);
    return d;
}

// 5 wide, 6 tall, corners cut off
function circlePath(v, c) {
    const cx = Math.floor(posX(v) / PX), cy = Math.round(posY(c) / PX);
    let d = "";
    for (let i = -1; i <= 1; i++) d += cell(cx + i, cy - 3) + cell(cx + i, cy + 2);
    for (let j = -2; j <= 1; j++) d += cell(cx - 2, cy + j) + cell(cx + 2, cy + j);
    return d;
}

// points one after the other, each one + first then o, so later ones cover earlier ones
const markers = g.selectAll(".markers")
    .data(allPoints)
    .enter().append("g")
    .attr("class", "markers")
    .attr("shape-rendering", "crispEdges");

markers.append("path")
    .attr("d", function(d) { return plusPath(d[0], d[1]); })
    .attr("fill", "#000");

markers.filter(function(d) { return d[2] !== null; })
    .append("path")
    .attr("d", function(d) { return circlePath(d[0], d[2]); })
    .attr("fill", "#ff0000");
</script>
</body>
</html>
